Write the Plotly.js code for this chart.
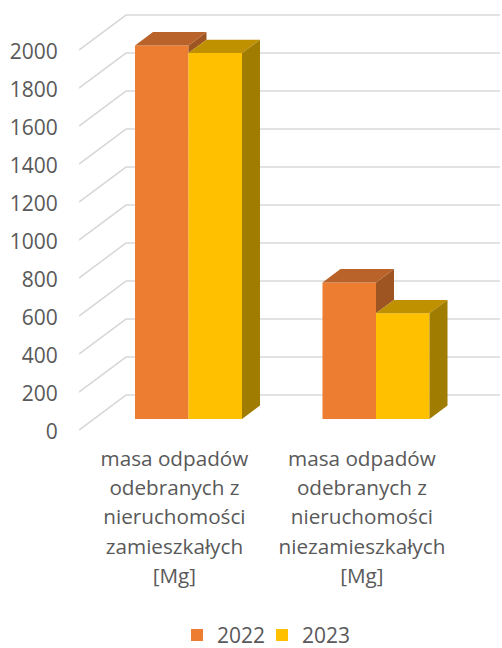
<!DOCTYPE html>
<html>
<head>
<meta charset="utf-8">
<script src="https://cdn.plot.ly/plotly-3.0.1.min.js"></script>
<style>html,body{margin:0;padding:0;background:#fff}#c{width:502px;height:648px}</style>
</head>
<body>
<div id="c"></div>
<script>
var seriesNames = ['2022', '2023'];
var values2022 = [1966, 719];
var values2023 = [1926, 556];
var categoryPositions = [0, 1];
var yTicks = [0, 200, 400, 600, 800, 1000, 1200, 1400, 1600, 1800, 2000];
var categoryLines = [
  ['masa odpadów', 'odebranych z', 'nieruchomości', 'zamieszkałych', '[Mg]'],
  ['masa odpadów', 'odebranych z', 'nieruchomości', 'niezamieszkałych', '[Mg]']
];
var labelX = [-0.075, 0.925];
var lineY = [-161, -315, -470, -625, -780];

var colors = {front: ['#ED7D31', '#FFC000'], top: ['#B9622A', '#BF9000'], side: ['#9E5522', '#A07C00']};
var textColor = '#595959', gridColor = '#D9D9D9', fontName = '"Open Sans", sans-serif';

// oblique projection, in axis units
var pxPerY = 0.19, pxPerX = 187.5;
var wallDX = 47 / pxPerX, wallDY = 35 / pxPerY;
var barDX = 18 / pxPerX, barDY = 13.4 / pxPerY, barBase = 11 / pxPerY;
var barW = 53.5 / pxPerX;
var xMin = (79 - 188.5) / pxPerX, xMax = (502 - 188.5) / pxPerX, xEnd = (500 - 188.5) / pxPerX;

var shapes = yTicks.map(function (v) {
  return {type: 'path', xref: 'x', yref: 'y', layer: 'below',
    path: 'M' + xMin + ',' + v + 'L' + (xMin + wallDX) + ',' + (v + wallDY) + 'L' + xEnd + ',' + (v + wallDY),
    line: {color: gridColor, width: 1.6}};
});

function poly(xs, ys, color) {
  return {x: xs.concat(xs[0]), y: ys.concat(ys[0]), mode: 'lines', fill: 'toself', fillcolor: color,
    line: {width: 0, color: color}, showlegend: false, hoverinfo: 'skip', type: 'scatter'};
}

var traces = [
  {type: 'bar', name: seriesNames[0], x: categoryPositions, y: values2022, base: barBase, marker: {color: colors.front[0]}, hoverinfo: 'skip', legend: 'legend'},
  {type: 'bar', name: seriesNames[1], x: categoryPositions, y: values2023, base: barBase, marker: {color: colors.front[1]}, hoverinfo: 'skip', legend: 'legend2'}
];

categoryPositions.forEach(function (c, i) {
  var o = values2022[i] + barBase, y = values2023[i] + barBase;
  var x0 = c - barW, x1 = c, x2 = c + barW;
  // orange side: only the part that rises above the yellow bar
  traces.push(poly([x1, x1 + barDX, x1 + barDX, x1], [o, o + barDY, y + barDY, y], colors.side[0]));
  traces.push(poly([x0, x0 + barDX, x1 + barDX, x1], [o, o + barDY, o + barDY, o], colors.top[0]));
  traces.push(poly([x1, x1 + barDX, x2 + barDX, x2], [y, y + barDY, y + barDY, y], colors.top[1]));
  traces.push(poly([x2, x2 + barDX, x2 + barDX, x2], [barBase, barBase + barDY, y + barDY, y], colors.side[1]));
});

var tx = [], ty = [], tt = [];
categoryLines.forEach(function (lines, i) {
  lines.forEach(function (s, j) { tx.push(labelX[i]); ty.push(lineY[j]); tt.push(s); });
});
traces.push({type: 'scatter', mode: 'text', x: tx, y: ty, text: tt, textposition: 'middle center',
  textfont: {family: fontName, size: 20.7, color: textColor}, showlegend: false, hoverinfo: 'skip'});

function legendAt(x) {
  return {orientation: 'h', xref: 'paper', x: x, xanchor: 'left', yref: 'paper', y: 0.02, yanchor: 'middle',
    font: {family: fontName, size: 21, color: textColor}, bgcolor: 'rgba(0,0,0,0)'};
}

var layout = {
  width: 502, height: 648,
  margin: {l: 79, r: 0, t: 10, b: 0, pad: 0, autoexpand: false},
  paper_bgcolor: '#fff', plot_bgcolor: '#fff',
  barmode: 'group', bargap: 1 - 2 * barW, bargroupgap: 0,
  hovermode: false,
  xaxis: {range: [xMin, xMax], visible: false, fixedrange: true},
  yaxis: {range: [-218 / pxPerY, 420 / pxPerY], tickmode: 'array', tickvals: yTicks, ticktext: yTicks.map(String),
    showgrid: false, zeroline: false, showline: false, ticks: 'outside', ticklen: 16, tickcolor: 'rgba(0,0,0,0)',
    ticklabelshift: 2,
    tickfont: {family: fontName, size: 21, color: textColor}, fixedrange: true},
  legend: legendAt(0.2317),
  legend2: legendAt(0.4326),
  shapes: shapes
};
Plotly.newPlot('c', traces, layout, {displayModeBar: false, staticPlot: true});
</script>
</body>
</html>
